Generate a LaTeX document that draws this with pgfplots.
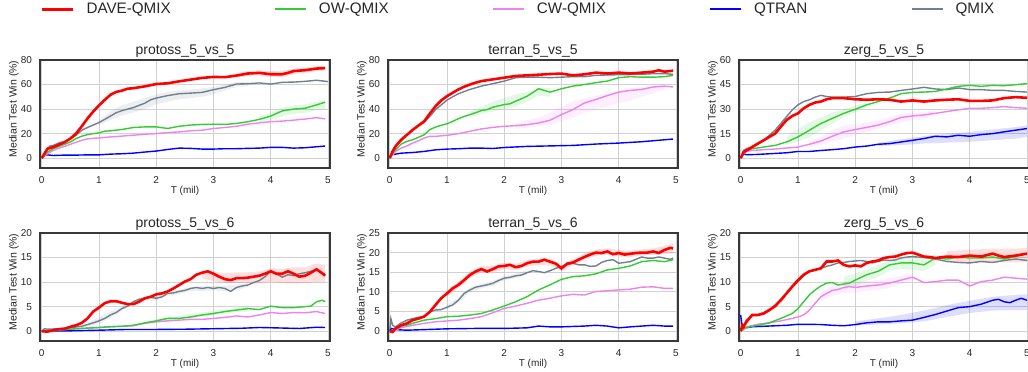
\documentclass[border=0pt]{standalone}
\usepackage{fontspec}
\setmainfont{Liberation Sans}
\usepackage{pgfplots}
\pgfplotsset{compat=1.18}
\definecolor{cDave}{HTML}{FF0000}
\definecolor{cOW}{HTML}{33CC33}
\definecolor{cCW}{HTML}{EE82EE}
\definecolor{cQT}{HTML}{0000FF}
\definecolor{cQM}{HTML}{708090}
\definecolor{txt}{HTML}{262626}
\pgfplotsset{
 panel/.style={
  scale only axis, width=290pt, height=108pt, anchor=south west,
  xmin=-0.03, xmax=5.035, xtick={0,1,2,3,4,5},
  grid=major, major grid style={draw=black!18, line width=0.9pt},
  axis line style={draw=black!78, line width=1.2pt},
  major tick length=0pt, tick style={draw=none},
  /pgf/number format/assume math mode=true,
  tick label style={font=\fontsize{10}{12}\selectfont, text=txt},
  xticklabel style={yshift=-5.4pt},
  yticklabel style={xshift=-4.5pt},
  xlabel={T (mil)}, ylabel={Median Test Win (\%)},
  every axis x label/.style={at={(axis description cs:0.5,0)}, anchor=north, yshift=-18.4pt, inner sep=0pt, font=\fontsize{10}{12}\selectfont, text=txt},
  every axis y label/.style={at={(axis description cs:-0.0897,0.546)}, rotate=90, anchor=center, inner sep=0pt, font=\fontsize{10.5}{12}\selectfont, text=txt},
  every axis title/.style={at={(axis description cs:0.5,1)}, anchor=base, yshift=5.5pt, inner sep=0pt, font=\fontsize{14}{16}\selectfont, text=txt},
 },
 dave/.style={color=cDave, line width=2.6pt, forget plot},
 ow/.style={color=cOW, line width=1.4pt, forget plot},
 cw/.style={color=cCW, line width=1.4pt, forget plot},
 qt/.style={color=cQT, line width=1.4pt, forget plot},
 qm/.style={color=cQM, line width=1.4pt, forget plot},
 band/.style={draw=none, fill=#1, fill opacity=0.13, forget plot},
}
\begin{document}
\begin{tikzpicture}
\useasboundingbox (0,0) rectangle (1028pt,372pt);
% ---------------- protoss_5_vs_5
\begin{axis}[panel, at={(40pt,204pt)}, title={protoss\_5\_vs\_5},
  ymin=-8, ymax=80, ytick={0,20,40,60,80},
  legend columns=5,
  legend style={at={(axis description cs:0.0034,1.4694)}, anchor=west, draw=none, fill=none, inner sep=0pt, outer sep=0pt, font=\fontsize{15.2}{17}\selectfont, text=txt, nodes={inner sep=0pt}, /tikz/every even column/.append style={column sep=103.5pt}, /tikz/every odd column/.append style={column sep=12pt}},
  legend image code/.code={\draw[#1] (0pt,0pt) -- (31pt,0pt);}]
\addlegendimage{color=cDave, line width=2.6pt}\addlegendentry{DAVE-QMIX}
\addlegendimage{color=cOW, line width=1.7pt}\addlegendentry{OW-QMIX}
\addlegendimage{color=cCW, line width=1.7pt}\addlegendentry{CW-QMIX}
\addlegendimage{color=cQT, line width=1.7pt}\addlegendentry{QTRAN}
\addlegendimage{color=cQM, line width=1.7pt}\addlegendentry{QMIX}
\addplot[band=cQM] coordinates {(1.0,31)(1.2,38)(1.4,43)(1.6,46)(1.8,49)(2.0,52)(2.2,54)(2.4,55)(2.6,56)(2.8,57)(3.0,58)(3.2,60)(3.4,62)(3.6,62)(3.6,59)(3.4,58)(3.2,55)(3.0,52)(2.8,50)(2.6,49)(2.4,48)(2.2,46)(2.0,44)(1.8,40)(1.6,37)(1.4,35)(1.2,31)(1.0,27)} -- cycle;
\addplot[band=cOW] coordinates {(3.8,34)(4.0,37)(4.2,41)(4.4,43)(4.6,44)(4.8,46)(4.95,47)(4.95,40)(4.8,39)(4.6,37)(4.4,36)(4.2,34)(4.0,31)(3.8,29)} -- cycle;
\addplot[band=cDave] coordinates {(3.4,69)(3.6,71)(3.8,71.5)(4.0,71)(4.2,71)(4.4,73)(4.6,73.5)(4.8,75)(4.95,75)(4.95,71.5)(4.8,71)(4.6,69.5)(4.4,68.5)(4.2,66)(4.0,66)(3.8,67.5)(3.6,67)(3.4,65.5)} -- cycle;
\addplot[qm] coordinates {(0,0)(0.1,7.7)(0.15,10)(0.2,10.4)(0.3,12.4)(0.4,13.7)(0.5,15.7)(0.6,18.7)(0.7,22.8)(0.8,25)(0.9,27)(1.0,29)(1.1,31.6)(1.2,34.3)(1.3,37)(1.4,38.7)(1.5,40)(1.6,41.2)(1.7,43)(1.8,44.8)(1.9,47.5)(2.0,49)(2.2,51)(2.4,52.5)(2.6,53)(2.8,53.6)(3.0,55.8)(3.2,57.7)(3.4,60.4)(3.6,60.7)(3.8,61.3)(4.0,60.4)(4.2,61.8)(4.4,62)(4.6,62.6)(4.8,63.5)(5.0,62.4)};
\addplot[qt] coordinates {(0,0)(0.05,2.2)(0.1,2.7)(0.2,2.2)(0.4,2.5)(0.6,2.5)(0.8,2.7)(1.0,2.7)(1.2,3.3)(1.4,3.6)(1.6,4.1)(1.8,5)(2.0,5.8)(2.2,7.1)(2.4,8.2)(2.6,8)(2.8,7.4)(3.0,7.4)(3.2,7.7)(3.4,7.7)(3.6,8)(3.8,8.2)(4.0,8.8)(4.2,8.8)(4.4,8.2)(4.6,8.5)(4.8,9.3)(4.95,9.9)};
\addplot[cw] coordinates {(0,0)(0.1,3.6)(0.2,6.3)(0.3,8.2)(0.4,9.6)(0.5,11.3)(0.6,13)(0.7,14.5)(0.8,15.7)(0.9,16.2)(1.0,16.5)(1.2,17.3)(1.4,18)(1.6,18.7)(1.8,19.5)(2.0,20)(2.2,20.9)(2.4,21.4)(2.6,22.3)(2.8,22.8)(3.0,24.2)(3.2,25)(3.4,26)(3.6,27.7)(3.8,28.8)(4.0,29.7)(4.2,30.2)(4.4,31)(4.6,31.9)(4.8,33)(4.95,32)};
\addplot[ow] coordinates {(0,0)(0.1,5)(0.2,7.7)(0.3,9.6)(0.4,11.3)(0.5,13.2)(0.6,16)(0.7,17.9)(0.8,19.2)(0.9,20)(1.0,20.6)(1.1,22)(1.2,22.3)(1.4,23.4)(1.6,25)(1.8,25.5)(2.0,25.5)(2.2,24.2)(2.4,26)(2.6,27)(2.8,27.5)(3.0,27.7)(3.2,27.5)(3.4,28.3)(3.6,29.7)(3.8,31.6)(4.0,34.3)(4.2,38.5)(4.4,40)(4.6,40.7)(4.8,43.4)(4.95,45.6)};
\addplot[dave] coordinates {(0,0)(0.1,7.7)(0.2,9)(0.3,11)(0.4,13)(0.5,16)(0.6,20)(0.7,26)(0.8,32.4)(0.9,38)(1.0,43)(1.1,47.5)(1.2,51.6)(1.3,54)(1.4,55)(1.5,56.6)(1.6,57)(1.8,58.5)(2.0,60.4)(2.2,61)(2.4,62.6)(2.6,64)(2.8,65.4)(3.0,66.2)(3.2,66)(3.4,67.3)(3.6,69)(3.8,69.5)(4.0,68.4)(4.2,68.4)(4.3,69.5)(4.4,71)(4.6,71.7)(4.8,73)(4.95,73.4)};
\end{axis}
% ---------------- terran_5_vs_5
\begin{axis}[panel, at={(388pt,204pt)}, title={terran\_5\_vs\_5},
  ymin=-8, ymax=80, ytick={0,20,40,60,80}]
\addplot[band=cOW] coordinates {(1.4,38)(1.6,42)(1.8,46)(2.0,49)(2.2,52)(2.4,54)(2.6,57)(2.8,57)(2.8,50)(2.6,51)(2.4,46)(2.2,42)(2.0,40)(1.8,38)(1.6,36)(1.4,33)} -- cycle;
\addplot[band=cCW] coordinates {(2.2,29)(2.4,31)(2.6,33)(2.8,37)(3.0,42)(3.2,46)(3.4,49)(3.6,51)(3.8,53)(4.0,55)(4.2,57)(4.4,58)(4.6,59)(4.8,60)(4.8,56)(4.6,53)(4.4,50)(4.2,47)(4.0,45)(3.8,42)(3.6,40)(3.4,37)(3.2,33)(3.0,30)(2.8,27)(2.6,26)(2.4,25)(2.2,24)} -- cycle;
\addplot[qm] coordinates {(0,0)(0.1,9)(0.3,19)(0.5,26.5)(0.6,29)(0.7,34)(0.8,39.6)(0.9,43.4)(1.0,47.3)(1.1,50)(1.2,52.5)(1.4,56)(1.6,58.7)(1.8,60.7)(2.0,62.8)(2.2,65.6)(2.4,66)(2.6,66)(2.8,65.6)(3.0,66)(3.2,66.4)(3.4,66.4)(3.6,67.5)(3.8,67.8)(4.0,68)(4.4,68.3)(4.6,68.9)(4.8,68.9)(4.95,68.3)};
\addplot[qt] coordinates {(0,0)(0.03,2.7)(0.1,3.3)(0.2,4.1)(0.4,4.6)(0.6,5.5)(0.8,6.8)(1.0,7.4)(1.2,7.7)(1.4,8.2)(1.6,8.2)(1.8,7.9)(2.0,8.7)(2.4,9.6)(2.8,10)(3.2,10.4)(3.6,11.5)(4.0,12.3)(4.4,13.4)(4.8,15)(4.95,15.6)};
\addplot[cw] coordinates {(0,0)(0.05,2.7)(0.1,5.5)(0.2,8.2)(0.3,10)(0.4,12.3)(0.5,14.2)(0.6,16.4)(0.7,17.8)(0.8,17.8)(1.0,18.6)(1.2,20)(1.4,21.9)(1.6,23.8)(1.8,25.1)(2.0,26)(2.2,26.5)(2.4,27.3)(2.6,28.7)(2.8,30.9)(3.0,35.5)(3.2,39.6)(3.4,45)(3.6,47.8)(3.8,51)(4.0,53.8)(4.2,55.2)(4.4,56)(4.6,58)(4.8,58.7)(4.95,58)};
\addplot[ow] coordinates {(0,0)(0.05,4)(0.1,6.8)(0.2,11.5)(0.3,13.7)(0.4,15)(0.5,17)(0.6,19)(0.7,23.2)(0.8,25.4)(0.9,26.8)(1.0,28)(1.1,30)(1.2,32.2)(1.3,34)(1.4,35.5)(1.5,37)(1.6,38.8)(1.7,39.6)(1.8,41.5)(2.0,43.7)(2.1,44.3)(2.2,46.4)(2.4,50.5)(2.6,56.6)(2.8,53.8)(3.0,56.6)(3.2,58.7)(3.4,60)(3.6,61.5)(3.8,62.8)(4.0,65.6)(4.2,66.4)(4.4,66)(4.6,66)(4.8,66.4)(4.95,67.5)};
\addplot[dave] coordinates {(0,0)(0.05,5.5)(0.1,9.6)(0.2,15)(0.3,19)(0.4,23)(0.5,26.5)(0.6,30)(0.7,36.3)(0.8,42.3)(0.9,47)(1.0,50.5)(1.1,53.3)(1.2,56)(1.3,58.2)(1.4,60)(1.5,61.5)(1.6,62.8)(1.8,64.2)(2.0,65.6)(2.2,67)(2.4,67.5)(2.6,68)(2.8,68.6)(3.0,68.9)(3.2,67.5)(3.4,68.3)(3.6,69.7)(3.8,69)(4.0,69.7)(4.2,69)(4.4,69.7)(4.6,70.5)(4.7,71.6)(4.8,70.5)(4.95,71.3)};
\end{axis}
% ---------------- zerg_5_vs_5
\begin{axis}[panel, at={(739pt,204pt)}, title={zerg\_5\_vs\_5},
  ymin=-6, ymax=60, ytick={0,15,30,45,60}]
\addplot[band=cOW] coordinates {(0.8,13)(1.0,18)(1.2,22)(1.4,25)(1.6,28)(1.8,30)(2.0,32)(2.2,34)(2.2,31)(2.0,28)(1.8,25)(1.6,21)(1.4,17)(1.2,13)(1.0,10)(0.8,8)} -- cycle;
\addplot[band=cCW] coordinates {(1.2,10)(1.4,13)(1.6,17)(1.8,20)(2.0,21)(2.2,22)(2.4,23)(2.6,25)(2.8,27)(3.0,28)(3.2,28)(3.4,29)(3.4,26)(3.2,24)(3.0,23)(2.8,22)(2.6,20)(2.4,18)(2.2,16)(2.0,14)(1.8,12)(1.6,10)(1.4,8)(1.2,7)} -- cycle;
\addplot[band=cQT] coordinates {(2.4,9.5)(2.8,11.5)(3.2,13.5)(3.6,15)(4.0,16)(4.4,17.5)(4.8,19)(5,20)(5,13)(4.8,12)(4.4,11)(4.0,10)(3.6,9.5)(3.2,9)(2.8,8)(2.4,7.5)} -- cycle;
\addplot[qm] coordinates {(0,0)(0.05,4.7)(0.1,5.8)(0.2,6.8)(0.3,8.9)(0.4,10.9)(0.5,14)(0.6,17.1)(0.7,21.2)(0.8,25.4)(0.9,29.5)(1.0,32.6)(1.1,34.6)(1.2,35.7)(1.3,37.3)(1.4,38.4)(1.5,37.7)(1.6,37.3)(1.8,37.3)(2.0,37.7)(2.2,39.4)(2.4,40.2)(2.6,40.4)(2.8,41.4)(3.0,42.3)(3.2,43.3)(3.4,42.3)(3.6,41.9)(3.8,42.9)(4.0,41.9)(4.2,41.9)(4.4,41.4)(4.6,41.4)(4.8,40.8)(5.0,40.4)};
\addplot[qt] coordinates {(0,0)(0.05,2.7)(0.1,2.1)(0.3,2.3)(0.5,2.7)(0.8,3.3)(1.0,4.1)(1.2,4.1)(1.4,4.7)(1.6,5.2)(1.8,5.8)(2.0,6.8)(2.2,7.4)(2.4,8.5)(2.6,8.9)(2.8,9.9)(3.0,10.9)(3.2,12)(3.4,13.4)(3.6,13)(3.8,14)(4.0,13.4)(4.2,14.4)(4.4,15)(4.6,16.1)(4.8,17.1)(5.0,18.1)};
\addplot[cw] coordinates {(0,0)(0.05,2.7)(0.1,4.1)(0.2,4.7)(0.4,5.2)(0.6,5.6)(0.8,6.2)(1.0,6.8)(1.2,8.5)(1.4,10.5)(1.6,13.4)(1.8,16.1)(2.0,17.5)(2.2,18.8)(2.4,20.2)(2.6,22.3)(2.8,24.9)(3.0,25.8)(3.2,26.4)(3.4,27.4)(3.6,28.5)(3.8,29.5)(4.0,30.5)(4.2,30.5)(4.4,30.9)(4.6,31.5)(4.8,30.9)(5.0,30.5)};
\addplot[ow] coordinates {(0,0)(0.05,2.7)(0.1,4.7)(0.2,5.8)(0.4,6.8)(0.6,7.8)(0.8,9.9)(1.0,13)(1.2,17.1)(1.4,21.2)(1.6,24.3)(1.8,27.4)(2.0,29.9)(2.2,32.6)(2.4,34.6)(2.6,36.7)(2.8,39.4)(3.0,40.2)(3.2,40.4)(3.4,40.8)(3.6,42.3)(3.8,43.9)(4.0,44.5)(4.2,43.9)(4.4,44.5)(4.6,44.3)(4.8,44.9)(5.0,45.6)};
\addplot[dave] coordinates {(0,0)(0.05,3.7)(0.1,4.7)(0.2,6.8)(0.3,8.9)(0.4,10.9)(0.5,13)(0.6,15)(0.7,19.2)(0.8,23.3)(0.9,25.8)(1.0,27.4)(1.1,30.5)(1.2,32.6)(1.3,34)(1.4,34.6)(1.5,36)(1.6,36.7)(1.8,36.7)(2.0,36)(2.2,35.7)(2.4,36)(2.6,35.7)(2.8,34.6)(3.0,35.3)(3.2,34.6)(3.4,35.3)(3.6,35.7)(3.8,36)(4.0,35)(4.2,35)(4.4,35.3)(4.6,36.7)(4.8,37.3)(5.0,36.9)};
\end{axis}
% ---------------- protoss_5_vs_6
\begin{axis}[panel, at={(40pt,31pt)}, title={protoss\_5\_vs\_6},
  ymin=-2, ymax=20, ytick={0,5,10,15,20}]
\addplot[band=cDave] coordinates {(2.8,12.3)(3.0,12.2)(3.2,11.8)(3.4,12)(3.6,12)(3.8,12.2)(4.0,12.8)(4.2,12.7)(4.4,13)(4.6,13)(4.8,13.8)(4.95,13.5)(4.95,10)(4.8,10)(4.6,9.8)(4.4,9.7)(4.2,9.8)(4.0,10)(3.8,9.8)(3.6,9.8)(3.4,9.8)(3.2,9.8)(3.0,10.2)(2.8,10.8)} -- cycle;
\addplot[band=cQM] coordinates {(0.8,1.8)(1.0,2.8)(1.2,4)(1.4,5)(1.6,6.2)(1.8,7)(2.0,7.3)(2.2,8)(2.4,8.5)(2.6,9)(2.8,9.2)(3.0,9.2)(3.2,9.3)(3.4,9.5)(3.6,9.8)(3.6,9)(3.4,8.4)(3.2,8.2)(3.0,8.3)(2.8,8.2)(2.6,8.2)(2.4,7.6)(2.2,7.2)(2.0,6.2)(1.8,6.3)(1.6,5.6)(1.4,4.2)(1.2,2.7)(1.0,1.5)(0.8,1.0)} -- cycle;
\addplot[band=cOW] coordinates {(2.0,2.5)(2.4,3.1)(2.8,3.8)(3.2,4.4)(3.6,5.1)(3.6,4.1)(3.2,3.6)(2.8,2.9)(2.4,2.2)(2.0,1.7)} -- cycle;
\addplot[qm] coordinates {(0,0)(0.05,0.5)(0.1,0.4)(0.3,0.5)(0.5,0.7)(0.7,1)(0.9,1.7)(1.0,2.1)(1.1,2.6)(1.2,3.3)(1.3,3.8)(1.4,4.6)(1.5,5.1)(1.6,6)(1.7,6.5)(1.8,6.7)(1.9,6.9)(2.0,6.7)(2.1,7)(2.2,7.7)(2.3,7.8)(2.4,8.1)(2.5,8.3)(2.6,8.7)(2.7,8.9)(2.8,8.7)(2.9,8.9)(3.0,8.7)(3.1,8.9)(3.2,8.7)(3.3,8.1)(3.4,8.9)(3.5,9.2)(3.6,9.4)(3.7,9.9)(3.8,10.3)(3.9,11.1)(4.0,12.2)(4.1,11.7)(4.2,11)(4.3,11.5)(4.4,11.3)(4.5,11.7)(4.6,11.9)(4.7,12.2)(4.8,12.5)(4.9,11.8)(4.95,11.5)};
\addplot[qt] coordinates {(0,0)(0.5,0.07)(1.0,0.2)(1.5,0.35)(2.0,0.35)(2.5,0.4)(3.0,0.5)(3.5,0.6)(3.8,0.75)(4.0,0.7)(4.5,0.55)(4.8,0.8)(4.95,0.75)};
\addplot[cw] coordinates {(0,0)(0.3,0.3)(0.6,0.5)(1.0,0.75)(1.2,0.9)(1.4,1)(1.6,1.1)(1.8,1.6)(2.0,1.9)(2.2,2.1)(2.4,2.25)(2.6,2.4)(2.8,2.4)(3.0,2.6)(3.2,2.8)(3.4,3.1)(3.6,2.9)(3.8,3.3)(4.0,3.8)(4.2,3.6)(4.4,3.8)(4.6,3.75)(4.8,4)(4.95,3.6)};
\addplot[ow] coordinates {(0,0)(0.3,0.2)(0.6,0.5)(1.0,0.75)(1.2,0.9)(1.4,1)(1.6,1.2)(1.8,1.7)(2.0,2.1)(2.2,2.6)(2.4,2.6)(2.6,2.9)(2.8,3.3)(3.0,3.6)(3.2,4)(3.4,4.3)(3.6,4.6)(3.8,4.4)(4.0,5.1)(4.2,4.8)(4.4,4.8)(4.6,5)(4.7,5.1)(4.8,6)(4.9,6.3)(4.95,6)};
\addplot[dave] coordinates {(0,0)(0.1,-0.1)(0.2,0.2)(0.3,0.4)(0.4,0.5)(0.5,0.9)(0.6,1.2)(0.7,1.7)(0.8,2.6)(0.9,4)(1.0,4.8)(1.1,5.7)(1.2,6.1)(1.3,6.1)(1.4,5.8)(1.5,5.5)(1.6,5.5)(1.7,6)(1.8,6.7)(1.9,7)(2.0,7.5)(2.1,7.7)(2.2,8.1)(2.3,8.7)(2.4,9.4)(2.5,10.1)(2.6,10.6)(2.7,11.5)(2.8,11.9)(2.9,12.2)(3.0,11.7)(3.1,11.1)(3.2,10.6)(3.3,10.4)(3.4,10.8)(3.5,10.8)(3.6,10.9)(3.7,11.1)(3.8,11.3)(3.9,11.7)(4.0,12.2)(4.1,11.7)(4.2,11.7)(4.3,12.2)(4.4,11.7)(4.5,11.1)(4.6,11.3)(4.7,11.9)(4.8,12.6)(4.9,11.8)(4.95,11.3)};
\end{axis}
% ---------------- terran_5_vs_6
\begin{axis}[panel, at={(388pt,31pt)}, title={terran\_5\_vs\_6},
  ymin=-2.5, ymax=25, ytick={0,5,10,15,20,25}]
\addplot[band=cDave] coordinates {(1.0,10.4)(1.2,12.6)(1.4,15.1)(1.6,16.6)(1.8,16.6)(2.0,17.4)(2.2,17.1)(2.4,18.1)(2.6,18.5)(2.8,18.5)(3.0,16.8)(3.2,18.3)(3.4,19.7)(3.6,20.8)(3.8,21.1)(4.0,20.7)(4.2,20.5)(4.4,20.8)(4.6,21.1)(4.8,21.7)(4.95,22.4)(4.95,19.8)(4.8,19.7)(4.6,19.5)(4.4,19.2)(4.2,18.9)(4.0,19.1)(3.8,19.5)(3.6,19.2)(3.4,18.1)(3.2,16.7)(3.0,15.2)(2.8,16.9)(2.6,16.9)(2.4,16.5)(2.2,15.5)(2.0,15.8)(1.8,15)(1.6,15)(1.4,13.5)(1.2,11)(1.0,8.8)} -- cycle;
\addplot[band=cQM] coordinates {(1.0,6.7)(1.2,8.6)(1.4,11.1)(1.6,12.1)(1.8,12.8)(2.0,14.1)(2.2,14.7)(2.4,15.5)(2.4,14.3)(2.2,13.5)(2.0,12.9)(1.8,11.6)(1.6,10.9)(1.4,9.9)(1.2,7.2)(1.0,5.5)} -- cycle;
\addplot[qm] coordinates {(0,0)(0.02,3.2)(0.05,1.5)(0.1,1.1)(0.2,2.1)(0.3,2.8)(0.4,3.2)(0.5,3.5)(0.6,3.8)(0.7,4.9)(0.8,5.4)(0.9,5.5)(1.0,6.1)(1.1,6.7)(1.2,7.9)(1.3,9.6)(1.4,10.5)(1.5,11.2)(1.6,11.5)(1.7,11.8)(1.8,12.2)(1.9,12.9)(2.0,13.5)(2.1,13.7)(2.2,14.1)(2.3,14.3)(2.4,14.9)(2.5,15.4)(2.6,15.2)(2.7,14.9)(2.8,15.4)(2.9,16)(3.0,16.5)(3.1,16.9)(3.2,17.3)(3.3,16.9)(3.4,16.9)(3.5,16.5)(3.6,16.6)(3.7,17.5)(3.8,18)(3.9,18.2)(4.0,17.3)(4.1,17.5)(4.2,17.7)(4.3,18.3)(4.4,18.9)(4.5,18.6)(4.6,18.6)(4.7,18.9)(4.8,18.6)(4.9,18.3)(4.95,18.6)};
\addplot[qt] coordinates {(0,0)(0.03,0.7)(0.1,0.4)(0.3,0.25)(0.6,0.4)(1.0,0.6)(1.5,0.7)(2.0,0.7)(2.4,0.85)(2.6,1.3)(2.8,1.1)(3.0,1.1)(3.4,1.3)(3.6,1.5)(3.8,1.3)(4.0,0.85)(4.2,1.1)(4.4,1.3)(4.6,1.5)(4.8,1.3)(4.95,1.3)};
\addplot[cw] coordinates {(0,0)(0.1,0.25)(0.2,0.9)(0.4,1.5)(0.6,2)(0.8,2.4)(1.0,2.6)(1.2,2.8)(1.4,3.2)(1.6,3.7)(1.8,4.7)(2.0,5.8)(2.2,6.4)(2.4,7.1)(2.6,7.9)(2.8,8.4)(3.0,9)(3.2,9.4)(3.4,9.2)(3.6,10.1)(3.8,10.3)(4.0,10.5)(4.2,10.7)(4.4,11.2)(4.6,11.3)(4.8,10.9)(4.95,10.9)};
\addplot[ow] coordinates {(0,0)(0.1,0.4)(0.2,1.3)(0.3,1.5)(0.4,2)(0.5,2.4)(0.6,2.8)(0.8,3.2)(1.0,3.7)(1.2,3.8)(1.4,4.1)(1.6,4.5)(1.8,5.4)(2.0,6.4)(2.2,7.5)(2.4,8.8)(2.6,10.5)(2.8,11.8)(3.0,13.2)(3.2,13.9)(3.4,14.1)(3.6,14.6)(3.8,15.6)(4.0,16)(4.2,16.6)(4.4,17.7)(4.6,18)(4.8,17.7)(4.95,18.2)};
\addplot[dave] coordinates {(0,0)(0.05,-0.2)(0.1,0.7)(0.2,1.5)(0.3,2)(0.4,2.8)(0.5,3.2)(0.6,3.7)(0.7,4.9)(0.8,6.7)(0.9,8.4)(1.0,9.6)(1.1,10.9)(1.2,11.8)(1.3,13)(1.4,14.3)(1.5,15.2)(1.6,15.8)(1.7,15.2)(1.8,15.8)(1.9,16.5)(2.0,16.6)(2.1,16.9)(2.2,16.3)(2.3,16.6)(2.4,17.3)(2.5,17.7)(2.6,17.7)(2.7,18.2)(2.8,17.7)(2.9,17.2)(3.0,16)(3.1,17.2)(3.2,17.5)(3.3,18.2)(3.4,18.9)(3.5,19.5)(3.6,20)(3.7,19.9)(3.8,20.3)(3.9,19.6)(4.0,19.9)(4.1,19.5)(4.2,19.7)(4.3,19.9)(4.4,20)(4.5,20)(4.6,20.3)(4.7,19.9)(4.8,20.7)(4.9,21.2)(4.95,21.1)};
\end{axis}
% ---------------- zerg_5_vs_6
\begin{axis}[panel, at={(739pt,31pt)}, title={zerg\_5\_vs\_6},
  ymin=-2, ymax=20, ytick={0,5,10,15,20}]
\addplot[band=cQT] coordinates {(2.0,2)(2.4,2.6)(2.8,3.3)(3.2,4.2)(3.6,5.3)(4.0,6.2)(4.4,7)(4.8,7.4)(5,7.5)(5,4.3)(4.8,4.3)(4.4,4.2)(4.0,3.7)(3.6,2.9)(3.2,2)(2.8,1.6)(2.4,1.4)(2.0,1.1)} -- cycle;
\addplot[band=cOW] coordinates {(1.8,11)(2.0,11.8)(2.2,12.6)(2.4,13.4)(2.6,14.5)(2.8,15)(3.0,15.2)(3.2,15)(3.4,15.8)(3.4,13.5)(3.2,12.2)(3.0,12.5)(2.8,12.6)(2.6,12.4)(2.4,11)(2.2,10.3)(2.0,9.2)(1.8,8.4)} -- cycle;
\addplot[band=cCW] coordinates {(1.4,8)(1.6,9.3)(1.8,9.8)(2.0,10)(2.2,10.2)(2.4,10.4)(2.6,10.8)(2.8,11.2)(3.0,11.8)(3.0,10.2)(2.8,9.6)(2.6,8.8)(2.4,8.4)(2.2,8.2)(2.0,7.8)(1.8,7.8)(1.6,7.2)(1.4,6)} -- cycle;
\addplot[band=cDave] coordinates {(3.6,16.3)(4.0,16.6)(4.4,16.8)(4.8,16.8)(5,17)(5,14.2)(4.8,14)(4.4,14)(4.0,14)(3.6,14.2)} -- cycle;
\addplot[qm] coordinates {(0,0)(0.05,1.2)(0.1,2.3)(0.2,3.3)(0.3,3.3)(0.4,3.8)(0.5,4.4)(0.6,5.3)(0.7,6.5)(0.8,7.7)(0.9,8.9)(1.0,10.1)(1.1,11.3)(1.2,12.2)(1.3,12.5)(1.4,12.8)(1.5,13.2)(1.6,13.5)(1.7,13.9)(1.8,14)(1.9,14.2)(2.0,14.3)(2.1,14.4)(2.2,14.2)(2.3,13.9)(2.4,14.2)(2.5,14.5)(2.6,14.4)(2.7,14.5)(2.8,14.9)(2.9,15.1)(3.0,15.2)(3.2,15)(3.4,14.7)(3.6,14.2)(3.8,14)(4.0,13.9)(4.2,14.2)(4.4,14)(4.6,14.4)(4.8,14.7)(5.0,14.4)};
\addplot[qt] coordinates {(0,3.3)(0.02,1.2)(0.05,0.75)(0.1,0.7)(0.2,0.9)(0.4,1)(0.6,1.1)(0.8,1.2)(1.0,1.4)(1.2,1.4)(1.4,1.35)(1.6,1.2)(1.8,1.1)(2.0,1.35)(2.2,1.7)(2.4,1.9)(2.6,1.9)(2.8,2.1)(3.0,2.25)(3.2,2.8)(3.4,3.4)(3.6,4.1)(3.8,4.8)(4.0,5)(4.2,5.5)(4.4,6.3)(4.5,6.5)(4.6,6)(4.7,5.8)(4.8,6.3)(4.9,6.7)(5.0,6.3)};
\addplot[cw] coordinates {(0,0)(0.05,0.3)(0.1,0.9)(0.3,1.4)(0.5,1.7)(0.7,2.1)(0.9,2.6)(1.0,2.9)(1.1,3.3)(1.2,4.3)(1.3,5.7)(1.4,7)(1.5,7.7)(1.6,8.3)(1.7,8.5)(1.8,8.9)(1.9,9.1)(2.0,8.9)(2.2,9.2)(2.4,9.4)(2.6,9.8)(2.8,10.4)(3.0,11)(3.2,9.9)(3.4,10.1)(3.6,10.4)(3.8,10.4)(4.0,9.2)(4.2,10.1)(4.4,10.4)(4.6,11)(4.8,10.8)(5.0,10.6)};
\addplot[ow] coordinates {(0,0)(0.05,0.5)(0.1,0.75)(0.3,1.2)(0.5,1.7)(0.7,2.6)(0.9,3.6)(1.0,4.6)(1.1,6)(1.2,7.4)(1.3,8.4)(1.4,9.2)(1.5,9.8)(1.6,9.9)(1.7,9.4)(1.8,9.6)(1.9,9.8)(2.0,10.4)(2.2,11.5)(2.4,12.2)(2.6,13.5)(2.8,13.9)(3.0,13.9)(3.2,13.5)(3.4,14.9)(3.6,14.7)(3.8,15.1)(4.0,14.9)(4.2,14.9)(4.4,15.1)(4.6,14.7)(4.8,15.2)(5.0,15.8)};
\addplot[dave] coordinates {(0,0)(0.03,1.2)(0.05,0.9)(0.1,1.9)(0.2,3.3)(0.3,3.3)(0.4,3.6)(0.5,4.3)(0.6,5.1)(0.7,6.3)(0.8,7.7)(0.9,9.1)(1.0,10.4)(1.1,11.5)(1.2,12.2)(1.3,12.5)(1.4,12.8)(1.5,14.2)(1.6,14.2)(1.7,14.4)(1.8,13.5)(1.9,13.2)(2.0,13.4)(2.1,13.2)(2.2,13.9)(2.3,14.2)(2.4,14.4)(2.5,14.9)(2.6,15.1)(2.7,15.2)(2.8,15.6)(2.9,15.9)(3.0,16)(3.1,15.6)(3.2,15.2)(3.3,15.1)(3.4,14.9)(3.6,15.2)(3.8,15.1)(4.0,15.4)(4.2,15.2)(4.4,15.8)(4.5,15.4)(4.6,15.1)(4.8,15.4)(5.0,15.8)};
\end{axis}
\end{tikzpicture}
\end{document}
